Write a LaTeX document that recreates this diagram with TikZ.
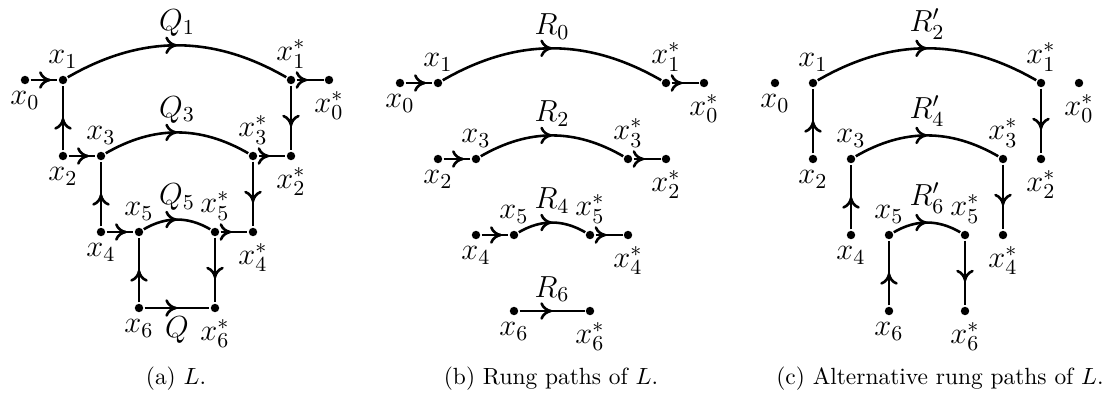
\RequirePackage{fix-cm}
\documentclass[tikz,border=0pt]{standalone}
\usetikzlibrary{arrows.meta, decorations.markings}

\begin{document}
\begin{tikzpicture}[
    line width=1.1pt,
    every node/.style={font=\fontsize{13}{15}\selectfont},
    every label/.style={inner sep=2pt},
    vtx/.style={circle, fill, inner sep=0pt, minimum size=3.6pt},
    arr/.style={postaction={decorate}, decoration={markings, mark=at position #1 with {\arrow{To[length=5pt, width=7.5pt]}}}},
    arr/.default=0.5,
    subcap/.style={font=\normalsize}
]
\useasboundingbox (0,0) rectangle (16.65,5.88);

% ============ (a) THE LADDER L ============
\begin{scope}[shift={(0.375,4.68)}, x=0.57cm, y=1.14cm]
\node[vtx, label=below:$x_0$] (a0) at (0,0) {};
\node[vtx, label=above:$x_1$] (a1) at (1,0) {};
\node[vtx, label=above:$x_1^*$] (a1s) at (7,0) {};
\node[vtx, label=below:$x_0^*$] (a0s) at (8,0) {};
\node[vtx, label=below:$x_2$] (a2) at (1,-1) {};
\node[vtx, label=above:$x_3$] (a3) at (2,-1) {};
\node[vtx, label=above:$x_3^*$] (a3s) at (6,-1) {};
\node[vtx, label=below:$x_2^*$] (a2s) at (7,-1) {};
\node[vtx, label=below:$x_4$] (a4) at (2,-2) {};
\node[vtx, label=above:$x_5$] (a5) at (3,-2) {};
\node[vtx, label=above:$x_5^*$] (a5s) at (5,-2) {};
\node[vtx, label=below:$x_4^*$] (a4s) at (6,-2) {};
\node[vtx, label=below:$x_6$] (a6) at (3,-3) {};
\node[vtx, label=below:$x_6^*$] (a6s) at (5,-3) {};

% rungs and sides
\draw[arr=0.75] (a0) -- (a1);
\draw[arr] (a1) to[bend left=30] node[above] {$Q_1$} (a1s);
\draw[arr=0.4] (a1s) -- (a0s);
\draw[arr=0.5] (a2) -- (a1);
\draw[arr=0.63] (a1s) -- (a2s);
\draw[arr=0.75] (a2) -- (a3);
\draw[arr] (a3) to[bend left=30] node[above] {$Q_3$} (a3s);
\draw[arr=0.4] (a3s) -- (a2s);
\draw[arr=0.5] (a4) -- (a3);
\draw[arr=0.63] (a3s) -- (a4s);
\draw[arr=0.75] (a4) -- (a5);
\draw[arr] (a5) to[bend left=30] node[above] {$Q_5$} (a5s);
\draw[arr=0.4] (a5s) -- (a4s);
\draw[arr=0.5] (a6) -- (a5);
\draw[arr=0.63] (a5s) -- (a6s);
\draw[arr] (a6) -- node[below] {$Q$} (a6s);
\end{scope}

% ============ (b) RUNG PATHS ============
\begin{scope}[shift={(6.0,4.635)}, x=0.57cm, y=1.14cm]
\node[vtx, label=below:$x_0$] (b0) at (0,0) {};
\node[vtx, label=above:$x_1$] (b1) at (1,0) {};
\node[vtx, label=above:$x_1^*$] (b1s) at (7,0) {};
\node[vtx, label=below:$x_0^*$] (b0s) at (8,0) {};
\node[vtx, label=below:$x_2$] (b2) at (1,-1) {};
\node[vtx, label=above:$x_3$] (b3) at (2,-1) {};
\node[vtx, label=above:$x_3^*$] (b3s) at (6,-1) {};
\node[vtx, label=below:$x_2^*$] (b2s) at (7,-1) {};
\node[vtx, label=below:$x_4$] (b4) at (2,-2) {};
\node[vtx, label=above:$x_5$] (b5) at (3,-2) {};
\node[vtx, label=above:$x_5^*$] (b5s) at (5,-2) {};
\node[vtx, label=below:$x_4^*$] (b4s) at (6,-2) {};
\node[vtx, label=below:$x_6$] (b6) at (3,-3) {};
\node[vtx, label=below:$x_6^*$] (b6s) at (5,-3) {};

\draw[arr=0.75] (b0) -- (b1);
\draw[arr] (b1) to[bend left=30] node[above] {$R_0$} (b1s);
\draw[arr=0.4] (b1s) -- (b0s);
\draw[arr=0.75] (b2) -- (b3);
\draw[arr] (b3) to[bend left=30] node[above] {$R_2$} (b3s);
\draw[arr=0.4] (b3s) -- (b2s);
\draw[arr=0.75] (b4) -- (b5);
\draw[arr] (b5) to[bend left=30] node[above] {$R_4$} (b5s);
\draw[arr=0.4] (b5s) -- (b4s);
\draw[arr] (b6) -- node[above] {$R_6$} (b6s);
\end{scope}

% ============ (c) ALTERNATIVE RUNG PATHS ============
\begin{scope}[shift={(11.625,4.635)}, x=0.57cm, y=1.14cm]
\node[vtx, label=below:$x_0$] (c0) at (0,0) {};
\node[vtx, label=above:$x_1$] (c1) at (1,0) {};
\node[vtx, label=above:$x_1^*$] (c1s) at (7,0) {};
\node[vtx, label=below:$x_0^*$] (c0s) at (8,0) {};
\node[vtx, label=below:$x_2$] (c2) at (1,-1) {};
\node[vtx, label=above:$x_3$] (c3) at (2,-1) {};
\node[vtx, label=above:$x_3^*$] (c3s) at (6,-1) {};
\node[vtx, label=below:$x_2^*$] (c2s) at (7,-1) {};
\node[vtx, label=below:$x_4$] (c4) at (2,-2) {};
\node[vtx, label=above:$x_5$] (c5) at (3,-2) {};
\node[vtx, label=above:$x_5^*$] (c5s) at (5,-2) {};
\node[vtx, label=below:$x_4^*$] (c4s) at (6,-2) {};
\node[vtx, label=below:$x_6$] (c6) at (3,-3) {};
\node[vtx, label=below:$x_6^*$] (c6s) at (5,-3) {};

\draw[arr=0.5] (c2) -- (c1);
\draw[arr] (c1) to[bend left=30] node[above] {$R_2'$} (c1s);
\draw[arr=0.63] (c1s) -- (c2s);
\draw[arr=0.5] (c4) -- (c3);
\draw[arr] (c3) to[bend left=30] node[above] {$R_4'$} (c3s);
\draw[arr=0.63] (c3s) -- (c4s);
\draw[arr=0.5] (c6) -- (c5);
\draw[arr] (c5) to[bend left=30] node[above] {$R_6'$} (c5s);
\draw[arr=0.63] (c5s) -- (c6s);
\end{scope}

% captions
\node[subcap] (capa) at (2.64,0.2) {(a) $L$.};
\node[subcap] (capb) at (8.265,0.2) {(b) Rung paths of $L$.};
\node[subcap] (capc) at (14.1,0.2) {(c) Alternative rung paths of $L$.};

\end{tikzpicture}
\end{document}
